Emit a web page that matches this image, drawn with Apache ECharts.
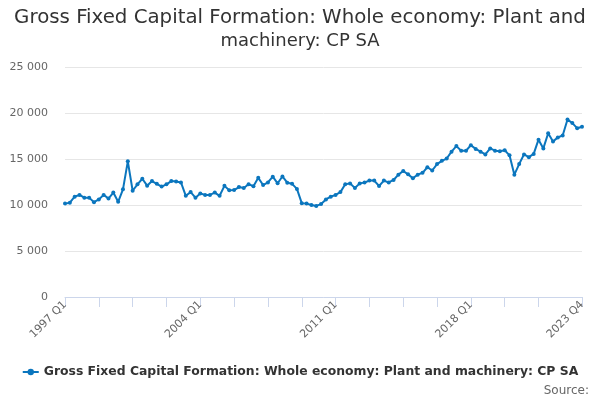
<!DOCTYPE html>
<html>
<head>
    <meta charset="UTF-8">
    <title>GFCF plant and machinery</title>
    <script src="https://cdn.jsdelivr.net/npm/echarts@6/dist/echarts.min.js"></script>
    <style>
        *{margin:0;padding:0;}
        body,html{width:600px;height:400px;background:#fff;}
        #main{width:600px;height:400px;}
    </style>
</head>
<body>
<div id="main"></div>
<script>
    // quarters 1997 Q1 .. 2023 Q4
    var firstYear = 1997;
    var lastYear = 2023;
    var quarters = [];
    for (var y = firstYear; y <= lastYear; y++) {
        for (var q = 1; q <= 4; q++) {
            quarters.push(y + ' Q' + q);
        }
    }

    // £ million
    var values1997to2003 = [
        10150, 10250, 10900, 11100, 10800, 10800, 10300, 10600,
        11100, 10700, 11350, 10350, 11700, 14750, 11550, 12250,
        12850, 12100, 12600, 12300, 12000, 12250, 12600, 12550,
        12450, 11000, 11400, 10800
    ];
    var values2004to2010 = [
        11250, 11100, 11100, 11350, 11000, 12080, 11600, 11620,
        11950, 11850, 12250, 12050, 12950, 12170, 12450, 13080,
        12360, 13100, 12420, 12300, 11750, 10200, 10150, 10000,
        9900, 10100, 10600, 10900
    ];
    var values2011to2017 = [
        11100, 11400, 12250, 12350, 11850, 12350, 12450, 12650,
        12650, 12070, 12650, 12450, 12720, 13300, 13700, 13330,
        12900, 13300, 13500, 14100, 13750, 14450, 14800, 15050,
        15800, 16400, 15900, 15900
    ];
    var values2018to2023 = [
        16500, 16100, 15800, 15500, 16150, 15900, 15850, 15950,
        15400, 13300, 14450, 15500, 15200, 15550, 17100, 16150,
        17800, 16900, 17350, 17550, 19300, 18900, 18350, 18500
    ];
    var seriesValues = values1997to2003.concat(values2004to2010, values2011to2017, values2018to2023);

    var yTicks = [0, 5000, 10000, 15000, 20000, 25000];
    var lastIdx = quarters.length - 1;
    var seriesName = 'Gross Fixed Capital Formation: Whole economy: Plant and machinery: CP SA';
    var blue = '#0b76be';

    var chart = echarts.init(document.getElementById('main'));
    var option = {
        backgroundColor: '#fff',
        textStyle: {fontFamily: 'DejaVu Sans'},
        title: [{
            text: 'Gross Fixed Capital Formation: Whole economy: Plant and',
            left: 'center',
            top: 3,
            textStyle: {fontSize: 19.8, fontWeight: 'normal', color: '#333', fontFamily: 'DejaVu Sans'}
        }, {
            text: 'machinery: CP SA',
            left: 'center',
            top: 27,
            textStyle: {fontSize: 18, fontWeight: 'normal', color: '#333', fontFamily: 'DejaVu Sans'}
        }, {
            text: 'Source:',
            right: 6,
            top: 380,
            textStyle: {fontSize: 12, fontWeight: 'normal', color: '#666', fontFamily: 'DejaVu Sans'}
        }],
        legend: {
            data: [seriesName],
            left: 'center',
            top: 361,
            itemWidth: 16,
            itemHeight: 8,
            itemGap: 6,
            textStyle: {fontSize: 12.4, fontWeight: 'bold', color: '#333', fontFamily: 'DejaVu Sans'}
        },
        grid: {left: 65, right: 18, top: 67, bottom: 103, containLabel: false},
        xAxis: {
            type: 'category',
            data: quarters,
            boundaryGap: false,
            axisLine: {lineStyle: {color: '#ccd6eb', width: 1}},
            axisTick: {
                show: true,
                length: 10,
                lineStyle: {color: '#ccd6eb'},
                interval: function (idx) { return (idx % 7 === 0 && idx <= 98) || idx === lastIdx; }
            },
            axisLabel: {
                rotate: 45,
                color: '#666',
                fontSize: 11,
                margin: 6,
                interval: function (idx) { return idx % 28 === 0 || idx === lastIdx; }
            },
            splitLine: {show: false}
        },
        yAxis: {
            type: 'value',
            min: yTicks[0],
            max: yTicks[yTicks.length - 1],
            interval: 5000,
            axisLine: {show: false},
            axisTick: {show: false},
            axisLabel: {
                color: '#666',
                fontSize: 11,
                margin: 17,
                formatter: function (v) { return String(v).replace(/\B(?=(\d{3})+(?!\d))/g, ' '); }
            },
            splitLine: {lineStyle: {color: '#e6e6e6'}}
        },
        series: [{
            name: seriesName,
            type: 'line',
            data: seriesValues,
            symbol: 'circle',
            symbolSize: 4,
            showSymbol: true,
            showAllSymbol: true,
            color: blue,
            lineStyle: {width: 2, color: blue},
            itemStyle: {color: blue},
            animation: false
        }],
        animation: false
    };
    chart.setOption(option);
</script>
</body>
</html>
